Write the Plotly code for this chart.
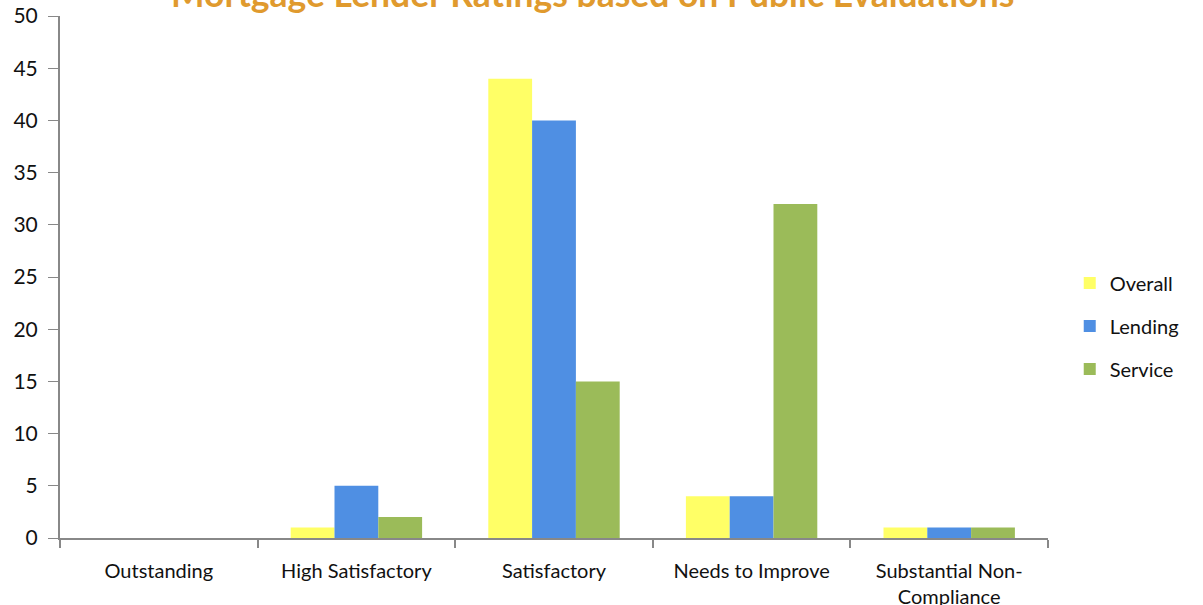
import plotly.graph_objects as go

categories = ["Outstanding", "High Satisfactory", "Satisfactory", "Needs to Improve", "Substantial Non-<br>Compliance"]
overall = [0, 1, 44, 4, 1]
lending = [0, 5, 40, 4, 1]
service = [0, 2, 15, 32, 1]
y_ticks = [0, 5, 10, 15, 20, 25, 30, 35, 40, 45, 50]
title_text = "Mortgage Lender Ratings based on Public Evaluations*"

FONT = "Lato"
fig = go.Figure()
fig.add_bar(name="Overall", legendgroup="a", x=categories, y=overall, marker=dict(color="#FFFF66", line=dict(width=0)))
fig.add_bar(name="Lending", legendgroup="b", x=categories, y=lending, marker=dict(color="#4F8FE3", line=dict(width=0)))
fig.add_bar(name="Service", legendgroup="c", x=categories, y=service, marker=dict(color="#9BBB59", line=dict(width=0)))

fig.update_layout(
    width=1203, height=605,
    margin=dict(l=60, r=155, t=16, b=67, autoexpand=False),
    paper_bgcolor="white", plot_bgcolor="white",
    barmode="group", bargap=0.335, bargroupgap=0,
    font=dict(family=FONT, size=20, color="#111111"),
    showlegend=True,
    legend=dict(x=1.022, xanchor="left", y=0.406, yanchor="middle",
                font=dict(size=20, color="#111111"), tracegroupgap=14, itemsizing="constant",
                traceorder="grouped"),
    xaxis=dict(type="category", showline=True, linecolor="#888888", linewidth=2,
               ticks="outside", tickson="boundaries", ticklen=8, tickcolor="#888888", tickwidth=2,
               tickfont=dict(size=20), ticklabelstandoff=14, showgrid=False, zeroline=False,
               automargin=False),
    yaxis=dict(range=[0, 50], tickvals=y_ticks, showline=True, linecolor="#888888", linewidth=2,
               ticks="outside", ticklen=10, tickcolor="#888888", tickwidth=1,
               tickfont=dict(size=21), ticklabelstandoff=6, showgrid=False, zeroline=False,
               automargin=False),
    annotations=[dict(text="<b>" + title_text + "</b>", xref="paper", yref="paper",
                      x=0.547, y=1.044, xanchor="center", yanchor="middle", showarrow=False,
                      font=dict(family=FONT, size=35.5, color="#E09A2E"))],
)

fig.write_html("out.html")
